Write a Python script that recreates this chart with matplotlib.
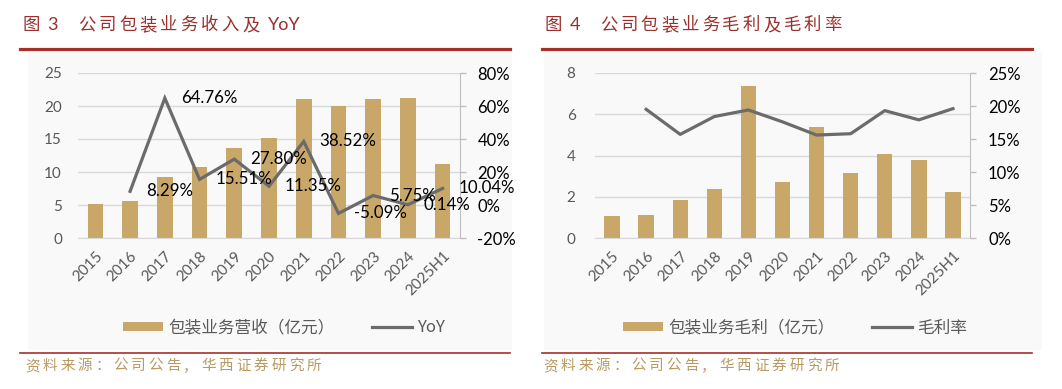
import matplotlib
matplotlib.use('Agg')
import matplotlib.pyplot as plt
from matplotlib.patches import Rectangle
from matplotlib.lines import Line2D
from matplotlib.ticker import FuncFormatter, MultipleLocator
import numpy as np

# ---------------- data ----------------
categories = ['2015', '2016', '2017', '2018', '2019', '2020', '2021', '2022', '2023', '2024', '2025H1']
revenue = [5.2, 5.66, 9.24, 10.7, 13.6, 15.2, 21.0, 19.95, 21.1, 21.16, 11.2]
yoy = [np.nan, 8.29, 64.76, 15.51, 27.80, 11.35, 38.52, -5.09, 5.75, 0.14, 10.04]
yoy_labels = ['', '8.29%', '64.76%', '15.51%', '27.80%', '11.35%', '38.52%', '-5.09%', '5.75%', '0.14%', '10.04%']
gross_profit = [1.05, 1.13, 1.83, 2.39, 7.35, 2.70, 5.40, 3.17, 4.09, 3.80, 2.23]
gross_margin = [np.nan, 19.5, 15.7, 18.4, 19.4, 17.6, 15.6, 15.8, 19.3, 17.9, 19.6]

title_left_num = ['图', '3']
title_left = '公司包装业务收入及'
title_left_latin = 'YoY'
title_right_num = ['图', '4']
title_right = '公司包装业务毛利及毛利率'
source_text = '资料来源：公司公告，华西证券研究所'
legend_left = ['包装业务营收（亿元）', 'YoY']
legend_right = ['包装业务毛利（亿元）', '毛利率']

# ---------------- style ----------------
W, H = 1062, 389
CJK = 'Noto Sans CJK SC'
NUM = 'Lato'
BAR = '#c8a769'
LINE = '#6b6b6b'
RED = '#a8302a'
TITLE = '#9a2f2c'
SRC = '#b89a62'
GRAY = '#595959'
GRID = '#d9d9d9'

plt.rcParams['font.family'] = [CJK, 'DejaVu Sans']

fig = plt.figure(figsize=(W / 100, H / 100), dpi=100)
fig.patch.set_facecolor('white')


def fx(x):
    return x / W


def fy(y):
    return 1 - y / H


# light panel backgrounds
for x0, x1 in [(28, 512), (544, 1042)]:
    fig.patches.append(Rectangle((fx(x0), fy(350)), fx(x1) - fx(x0), fy(52) - fy(350),
                                 transform=fig.transFigure, facecolor='#f9f9f9',
                                 edgecolor='none', zorder=-10))

# header / footer lines
for x0, x1 in [(20, 510), (542, 1032)]:
    fig.add_artist(Line2D([fx(x0), fx(x1)], [fy(49), fy(49)], color=RED, lw=2.3,
                          transform=fig.transFigure))
    fig.add_artist(Line2D([fx(x0), fx(x1)], [fy(353), fy(353)], color=RED, lw=1.2,
                          transform=fig.transFigure))


def spaced(text, x0, y, adv, size, color):
    for i, ch in enumerate(text):
        fig.text(fx(x0 + i * adv), fy(y), ch, fontsize=size, color=color,
                 ha='left', va='center', family=[CJK, 'DejaVu Sans'])


# titles
fig.text(fx(23), fy(25), title_left_num[0], fontsize=12.5, color=TITLE, va='center')
fig.text(fx(47), fy(25), title_left_num[1], fontsize=13, color=TITLE, va='center', family=NUM)
spaced(title_left, 78, 25, 20.5, 12.5, TITLE)
fig.text(fx(268), fy(25), title_left_latin, fontsize=13, color=TITLE, va='center', family=NUM)

fig.text(fx(545), fy(25), title_right_num[0], fontsize=12.5, color=TITLE, va='center')
fig.text(fx(570), fy(25), title_right_num[1], fontsize=13, color=TITLE, va='center', family=NUM)
spaced(title_right, 600, 25, 20.4, 12.5, TITLE)

# sources
spaced(source_text, 25, 366, 17.6, 10.5, SRC)
spaced(source_text, 543, 366, 17.6, 10.5, SRC)

x = np.arange(len(categories))


def pct(v, pos):
    return '{:.0f}%'.format(v)


def setup(ax, axr, ylim, ystep, rlim, rstep, lpad, rpad):
    ax.set_xlim(-0.5, len(categories) - 0.5)
    ax.set_ylim(*ylim)
    ax.yaxis.set_major_locator(MultipleLocator(ystep))
    ax.grid(axis='y', color=GRID, lw=1.0)
    ax.set_axisbelow(True)
    for s in ['top', 'left', 'right']:
        ax.spines[s].set_visible(False)
    ax.spines['bottom'].set_color(GRID)
    ax.tick_params(axis='y', length=0, pad=lpad, labelsize=11, labelcolor=GRAY)
    ax.tick_params(axis='x', length=0, pad=8, labelsize=11, labelcolor=GRAY)
    ax.set_xticks(x)
    ax.set_xticklabels(categories, rotation=45, ha='right', va='top',
                       rotation_mode='anchor', family=NUM)
    for lab in ax.get_yticklabels():
        lab.set_family(NUM)
    axr.set_ylim(*rlim)
    axr.yaxis.set_major_locator(MultipleLocator(rstep))
    axr.yaxis.set_major_formatter(FuncFormatter(pct))
    for s in ['top', 'left', 'bottom']:
        axr.spines[s].set_visible(False)
    axr.spines['right'].set_color('#bfbfbf')
    axr.tick_params(axis='y', length=4.5, width=1, color='#bfbfbf', pad=rpad,
                    labelsize=12, labelcolor='black')
    for lab in axr.get_yticklabels():
        lab.set_family(NUM)
    ax.patch.set_visible(False)
    axr.patch.set_visible(False)


# ---------------- left chart ----------------
ax1 = fig.add_axes([fx(78), fy(238), fx(460) - fx(78), fy(73) - fy(238)])
ax1r = ax1.twinx()
ax1.bar(x, revenue, width=0.45, color=BAR, zorder=2)
ax1r.plot(x, yoy, color=LINE, lw=2.3, solid_joinstyle='miter', zorder=3)
for xi, yi, lab in zip(x, yoy, yoy_labels):
    if lab:
        ax1r.annotate(lab, (xi, yi), xytext=(11.5, 0), textcoords='offset points',
                      ha='left', va='center', fontsize=12.2, family=NUM, color='black',
                      annotation_clip=False)
setup(ax1, ax1r, (0, 25), 5, (-20, 80), 20, 11.5, 8)

# ---------------- right chart ----------------
ax2 = fig.add_axes([fx(595), fy(238), fx(970) - fx(595), fy(73) - fy(238)])
ax2r = ax2.twinx()
ax2.bar(x, gross_profit, width=0.45, color=BAR, zorder=2)
ax2r.plot(x, gross_margin, color=LINE, lw=2.3, zorder=3)
setup(ax2, ax2r, (0, 8), 2, (0, 25), 5, 14, 8.5)

# ---------------- legends ----------------
for labels, cx in [(legend_left, 284), (legend_right, 795)]:
    handles = [Rectangle((0, 0), 1, 1, facecolor=BAR, edgecolor='none'),
               Line2D([0], [0], color=LINE, lw=2.3)]
    fig.legend(handles, labels, loc='center', bbox_to_anchor=(fx(cx), fy(328)),
               ncol=2, frameon=False, fontsize=12, handlelength=2.4,
               handleheight=0.5, handletextpad=0.35, columnspacing=2.2,
               labelcolor=GRAY)

fig.savefig('out.png', dpi=100, facecolor='white')
